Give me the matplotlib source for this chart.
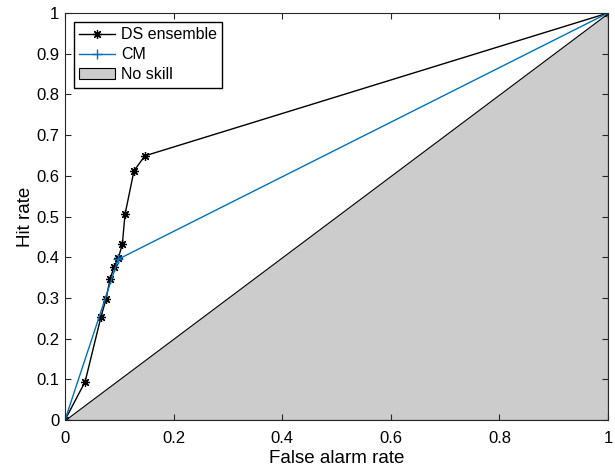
import numpy as np
import matplotlib.pyplot as plt

plt.rcParams['font.family'] = ['Liberation Sans', 'DejaVu Sans']

# ROC points
ds_far = [0, 0.037, 0.066, 0.0755, 0.083, 0.090, 0.098, 0.1056, 0.1105, 0.127, 0.147, 1]
ds_hit = [0, 0.094, 0.252, 0.297, 0.346, 0.375, 0.397, 0.432, 0.505, 0.612, 0.649, 1]
cm_far = [0, 0.098, 1]
cm_hit = [0, 0.395, 1]
noskill = [0, 1]

fig = plt.figure(figsize=(6.15, 4.7), dpi=100)
ax = fig.add_axes([0.1057, 0.1064, 0.8829, 0.8659])

ax.fill_between(noskill, [0, 0], noskill, facecolor=(0.8, 0.8, 0.8),
                edgecolor='black', linewidth=0.8, label='No skill')
ax.plot(ds_far, ds_hit, '-', marker=(8, 2, 0), color='black', lw=1, ms=6.5,
        mew=0.9, label='DS ensemble')
ax.plot(cm_far, cm_hit, '-+', color=(0, 0.447, 0.741), lw=1, ms=7, label='CM')

ax.set_xlim(0, 1)
ax.set_ylim(0, 1)
ax.set_xticks(np.arange(0, 1.01, 0.2))
ax.set_yticks(np.arange(0, 1.01, 0.1))
ax.set_xticklabels(['0', '0.2', '0.4', '0.6', '0.8', '1'])
ax.set_yticklabels(['0'] + ['%.1f' % v for v in np.arange(0.1, 0.95, 0.1)] + ['1'])
ax.tick_params(direction='in', top=True, right=True, labelsize=12, length=4,
               color=(0.15, 0.15, 0.15), labelcolor='black')
ax.tick_params(axis='x', pad=8)
ax.tick_params(axis='y', pad=4)
for s in ax.spines.values():
    s.set_color((0.15, 0.15, 0.15))
    s.set_linewidth(0.8)
ax.set_xlabel('False alarm rate', fontsize=13.5, labelpad=3)
ax.set_ylabel('Hit rate', fontsize=13.5, labelpad=2)

h, l = ax.get_legend_handles_labels()
ax.legend([h[1], h[2], h[0]], [l[1], l[2], l[0]], loc='upper left', fontsize=11.5,
          fancybox=False, edgecolor='black', framealpha=1, borderaxespad=0.55,
          handlelength=2.2, labelspacing=0.3, handletextpad=0.4, borderpad=0.35)

fig.savefig('out.png')
